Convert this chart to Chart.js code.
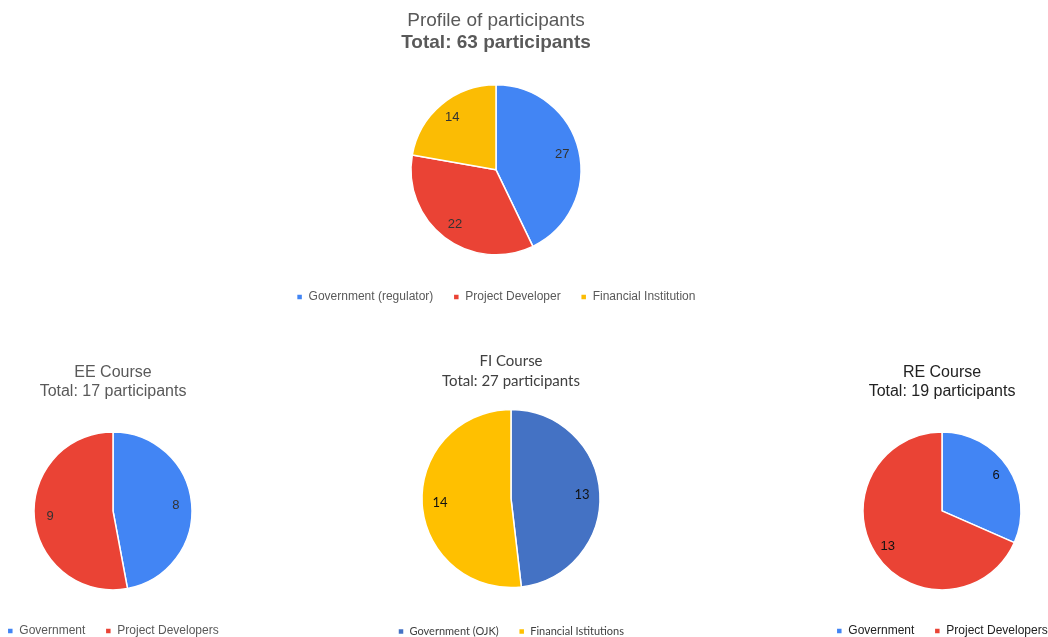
<!DOCTYPE html>
<html>
<head>
<meta charset="utf-8">
<script src="https://cdn.jsdelivr.net/npm/chart.js@4.4.1/dist/chart.umd.min.js"></script>
<style>
  html, body { margin: 0; padding: 0; background: #ffffff; overflow: hidden; width: 1048px; height: 637px; }
  .box { position: absolute; }
</style>
</head>
<body>
<div class="box" id="bTop" style="left:196px; top:0px; width:600px; height:313px;"><canvas id="cTop"></canvas></div>
<div class="box" id="bEE" style="left:-37px; top:350px; width:300px; height:297px;"><canvas id="cEE"></canvas></div>
<div class="box" id="bFI" style="left:361px; top:340px; width:300px; height:307px;"><canvas id="cFI"></canvas></div>
<div class="box" id="bRE" style="left:792px; top:350px; width:300px; height:297px;"><canvas id="cRE"></canvas></div>
<script>
// ---- Data ----
const profileLabels = ['Government (regulator)', 'Project Developer', 'Financial Institution'];
const profileValues = [27, 22, 14];
const profileTitle = 'Profile of participants';
const profileSubtitle = 'Total: 63 participants';

const eeLabels = ['Government', 'Project Developers'];
const eeValues = [8, 9];
const eeTitle = ['EE Course', 'Total: 17 participants'];

const fiLabels = ['Government (OJK)', 'Financial Istitutions'];
const fiValues = [13, 14];
const fiTitle = ['FI Course', 'Total: 27 participants'];

const reLabels = ['Government', 'Project Developers'];
const reValues = [6, 13];
const reTitle = ['RE Course', 'Total: 19 participants'];

// ---- Colours ----
const gBlue = '#4285F4', gRed = '#EA4335', gYellow = '#FBBC04';
const oBlue = '#4472C4', oGold = '#FFC000';

Chart.defaults.animation = false;
Chart.defaults.font.family = '"Liberation Sans", Arial, sans-serif';
const arialFam = '"Liberation Sans", Arial, sans-serif';

const sliceLabels = {
  id: 'sliceLabels',
  afterDatasetsDraw(chart, args, opts) {
    const ctx = chart.ctx;
    const meta = chart.getDatasetMeta(0);
    const data = chart.data.datasets[0].data;
    meta.data.forEach((arc, i) => {
      const p = arc.getProps(['x', 'y', 'startAngle', 'endAngle', 'outerRadius'], true);
      const mid = (p.startAngle + p.endAngle) / 2;
      const r = p.outerRadius * opts.pos;
      ctx.save();
      ctx.font = opts.font;
      ctx.fillStyle = opts.color;
      ctx.textAlign = 'center';
      ctx.textBaseline = 'middle';
      ctx.fillText(String(data[i]), p.x + Math.cos(mid) * r, p.y + Math.sin(mid) * r);
      ctx.restore();
    });
  }
};

function makePie(id, labels, values, colors, cfg) {
  const fam = cfg.family || arialFam;
  const plugins = {
    legend: {
      position: 'bottom',
      labels: {
        usePointStyle: true,
        pointStyle: 'rect',
        boxWidth: cfg.box,
        boxHeight: cfg.box,
        padding: 20,
        color: cfg.legendColor,
        font: { size: cfg.legendSize, family: fam }
      }
    },
    title: {
      display: true,
      text: cfg.title,
      color: cfg.titleColor,
      font: { size: cfg.titleSize, weight: 'normal', family: fam, lineHeight: cfg.titleLH || 1.2 },
      padding: cfg.titlePad
    },
    tooltip: { enabled: false },
    sliceLabels: { pos: cfg.labelPos, font: cfg.labelFont, color: cfg.labelColor }
  };
  if (cfg.subtitle) {
    plugins.subtitle = {
      display: true,
      text: cfg.subtitle,
      color: cfg.titleColor,
      font: { size: cfg.titleSize, weight: 'bold', family: fam },
      padding: cfg.subPad
    };
  }
  return new Chart(document.getElementById(id), {
    type: 'pie',
    data: {
      labels: labels,
      datasets: [{
        data: values,
        backgroundColor: colors,
        borderColor: '#ffffff',
        borderWidth: 1.5
      }]
    },
    options: {
      responsive: true,
      maintainAspectRatio: false,
      radius: cfg.radius,
      layout: { padding: 0 },
      plugins: plugins
    },
    plugins: [sliceLabels]
  });
}

makePie('cTop', profileLabels, profileValues, [gBlue, gRed, gYellow], {
  title: profileTitle, subtitle: profileSubtitle, titleSize: 19, titleColor: '#595959',
  titlePad: { top: 9, bottom: 0 }, subPad: { top: 0, bottom: 14 },
  legendSize: 12, legendColor: '#595959', box: 6, radius: 85,
  labelPos: 0.8, labelFont: '13px "Liberation Sans", Arial, sans-serif', labelColor: '#333333'
});

makePie('cEE', eeLabels, eeValues, [gBlue, gRed], {
  title: eeTitle, titleSize: 16, titleColor: '#595959',
  titlePad: { top: 13, bottom: 15.4 },
  legendSize: 12, legendColor: '#595959', box: 6, radius: 79,
  labelPos: 0.8, labelFont: '13px "Liberation Sans", Arial, sans-serif', labelColor: '#333333'
});

makePie('cFI', fiLabels, fiValues, [oBlue, oGold], {
  title: fiTitle, titleSize: 15, titleColor: '#404040', titleLH: 1.333, family: 'Lato, "Open Sans", sans-serif',
  titlePad: { top: 11, bottom: 0 },
  legendSize: 11, legendColor: '#404040', box: 6, radius: 89,
  labelPos: 0.8, labelFont: '13px Lato, "Open Sans", sans-serif', labelColor: '#111111'
});

makePie('cRE', reLabels, reValues, [gBlue, gRed], {
  title: reTitle, titleSize: 16, titleColor: '#222222',
  titlePad: { top: 13, bottom: 15.4 },
  legendSize: 12, legendColor: '#222222', box: 6, radius: 79,
  labelPos: 0.82, labelFont: '13px "Liberation Sans", Arial, sans-serif', labelColor: '#111111'
});
</script>
</body>
</html>
